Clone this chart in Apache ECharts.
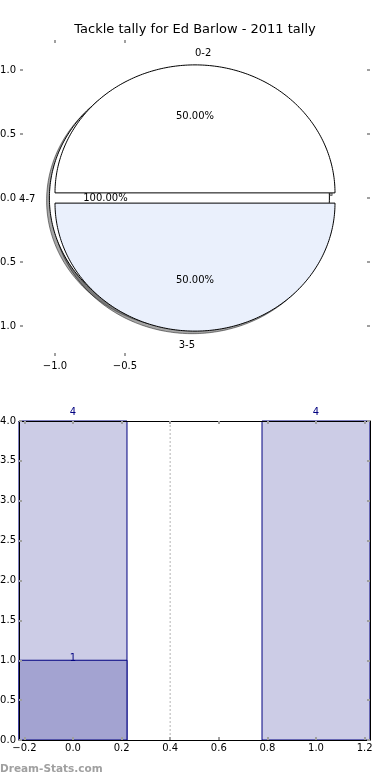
<!DOCTYPE html>
<html><head><meta charset="utf-8">
<script src="https://cdn.jsdelivr.net/npm/echarts@6/dist/echarts.min.js"></script>
<style>html,body{margin:0;padding:0;background:#fff}#c{width:390px;height:780px}</style>
</head><body><div id="c"></div>
<script>
// ---- data ----
const titleText = 'Tackle tally for Ed Barlow - 2011 tally';
const pieLabels = ['0-2', '4-7', '3-5'];
const pieValues = [1, 0, 1];
const piePctLabels = ['50.00%', '100.00%', '50.00%'];
const pieXTicks = [-1.0, -0.5];
const pieYTicks = [-1.0, -0.5, 0.0, 0.5, 1.0];

const barX = [0, 1];
const barTotals = [4, 4];
const barSubX = [0];
const barSubValues = [1];
const barXTicks = [-0.2, 0.0, 0.2, 0.4, 0.6, 0.8, 1.0, 1.2];
const barYTicks = [0.0, 0.5, 1.0, 1.5, 2.0, 2.5, 3.0, 3.5, 4.0];
const dividerX = [0.4];
const footerText = 'Dream-Stats.com';

// ---- styles ----
const FONT = 'DejaVu Sans';
const pieColors = ['#ffffff', '#ffffff', '#eaf0fc'];
const EXPLODE = 0.04, LABEL_D = 1.1, PCT_D = 0.6;
const SHADOW_OFF = [-0.02, -0.02];
const HALF_W = 0.2222;
const TICK_COLOR = '#a0a0a0';

const fmt = v => { const a = Math.abs(v) < 1e-9 ? 0 : v; return (a < 0 ? '\u2212' : '') + Math.abs(a).toFixed(1); };
const total = pieValues.reduce((a, b) => a + b, 0);
function wedge(i) {
  let t1 = 0;
  for (let k = 0; k < i; k++) t1 += 360 * pieValues[k] / total;
  const t2 = t1 + 360 * pieValues[i] / total;
  const m = (t1 + t2) / 2 * Math.PI / 180;
  return { t1, t2, m, full: t2 === t1, cx: EXPLODE * Math.cos(m), cy: EXPLODE * Math.sin(m) };
}
// a zero-sweep wedge is drawn as a full ellipse (as in the reference)
function wedgePoints(api, i, off) {
  const w = wedge(i);
  const a1 = w.t1, a2 = w.full ? w.t1 + 360 : w.t2;
  const pts = w.full ? [] : [api.coord([w.cx + off[0], w.cy + off[1]])];
  const n = Math.max(2, Math.ceil(a2 - a1));
  for (let j = 0; j <= n; j++) {
    const a = (a1 + (a2 - a1) * j / n) * Math.PI / 180;
    pts.push(api.coord([w.cx + off[0] + Math.cos(a), w.cy + off[1] + Math.sin(a)]));
  }
  return pts;
}

const tickStyle = (vals) => ({ show: true, inside: true, length: 3, lineStyle: { color: TICK_COLOR, width: 2 }, customValues: vals });
const labelStyle = (vals, margin) => ({ show: true, customValues: vals, formatter: fmt, fontFamily: FONT, fontSize: 10, color: '#000', margin: margin });
const hiddenLabel = { show: false };
const noSplit = { show: false };
const ghostLine = { show: true, onZero: false, lineStyle: { color: 'rgba(0,0,0,0)', width: 1 } };
const frameLine = { show: true, onZero: false, lineStyle: { color: '#000', width: 1 } };

const chart = echarts.init(document.getElementById('c'), null, { renderer: 'canvas' });
const pieIdx = pieLabels.map((_, i) => [i, 0]);

function barRender(fill) {
  return function (params, api) {
    const x = api.value(0), v = api.value(1);
    const p0 = api.coord([x - HALF_W, 0]), p1 = api.coord([x + HALF_W, v]);
    return { type: 'rect', shape: { x: p0[0], y: p1[1], width: p1[0] - p0[0], height: p0[1] - p1[1] },
      style: { fill: fill, stroke: '#000080', lineWidth: 1 } };
  };
}
function barLabelRender(dy, va) {
  return function (params, api) {
    const x = api.value(0), v = api.value(1);
    const p = api.coord([x, v]);
    return { type: 'text', x: p[0], y: p[1] + dy,
      style: { text: String(v), align: 'center', verticalAlign: va, fill: '#000080', font: '10px ' + FONT } };
  };
}

chart.setOption({
  animation: false,
  backgroundColor: '#fff',
  title: { text: titleText, left: 'center', top: 23, padding: 0,
    textStyle: { fontFamily: FONT, fontSize: 13, fontWeight: 'normal', color: '#000' } },
  grid: [
    { left: 20, top: 40, width: 350, height: 316, outerBoundsMode: 'none', containLabel: false },
    { left: 19, top: 421, width: 351, height: 319, outerBoundsMode: 'none', containLabel: false }
  ],
  xAxis: [
    { gridIndex: 0, type: 'value', position: 'bottom', min: -1.25, max: 1.25, z: 10,
      axisLine: ghostLine, splitLine: noSplit, axisTick: tickStyle(pieXTicks), axisLabel: labelStyle(pieXTicks, 5) },
    { gridIndex: 0, type: 'value', position: 'top', min: -1.25, max: 1.25, z: 10,
      axisLine: ghostLine, splitLine: noSplit, axisTick: tickStyle(pieXTicks), axisLabel: hiddenLabel },
    { gridIndex: 1, type: 'value', position: 'bottom', min: -HALF_W, max: 1 + HALF_W, z: 10,
      axisLine: frameLine, splitLine: noSplit, axisTick: tickStyle(barXTicks), axisLabel: labelStyle(barXTicks, 3) },
    { gridIndex: 1, type: 'value', position: 'top', min: -HALF_W, max: 1 + HALF_W, z: 10,
      axisLine: frameLine, splitLine: noSplit, axisTick: tickStyle(barXTicks), axisLabel: hiddenLabel }
  ],
  yAxis: [
    { gridIndex: 0, type: 'value', position: 'left', min: -1.234375, max: 1.234375, z: 10,
      axisLine: ghostLine, splitLine: noSplit, axisTick: tickStyle(pieYTicks), axisLabel: labelStyle(pieYTicks, 4) },
    { gridIndex: 0, type: 'value', position: 'right', min: -1.234375, max: 1.234375, z: 10,
      axisLine: ghostLine, splitLine: noSplit, axisTick: tickStyle(pieYTicks), axisLabel: hiddenLabel },
    { gridIndex: 1, type: 'value', position: 'left', min: 0, max: 4, z: 10,
      axisLine: frameLine, splitLine: noSplit, axisTick: tickStyle(barYTicks), axisLabel: labelStyle(barYTicks, 3) },
    { gridIndex: 1, type: 'value', position: 'right', min: 0, max: 4, z: 10,
      axisLine: frameLine, splitLine: noSplit, axisTick: tickStyle(barYTicks), axisLabel: hiddenLabel }
  ],
  series: [
    // pie shadows
    { type: 'custom', xAxisIndex: 0, yAxisIndex: 0, z: 1, data: pieIdx, silent: true,
      renderItem(params, api) {
        const i = params.dataIndex;
        return { type: 'polygon', shape: { points: wedgePoints(api, i, SHADOW_OFF) },
          style: { fill: 'rgba(77,77,77,0.5)', stroke: 'rgba(0,0,0,0.45)', lineWidth: 1 } };
      } },
    // full (zero-sweep) wedges, drawn beneath the others
    { type: 'custom', xAxisIndex: 0, yAxisIndex: 0, z: 2, data: pieIdx, silent: true,
      renderItem(params, api) {
        const i = params.dataIndex;
        if (!wedge(i).full) return null;
        return { type: 'polygon', shape: { points: wedgePoints(api, i, [0, 0]) },
          style: { fill: pieColors[i], stroke: '#000', lineWidth: 1 } };
      } },
    // pie wedges
    { type: 'custom', xAxisIndex: 0, yAxisIndex: 0, z: 3, data: pieIdx, silent: true,
      renderItem(params, api) {
        const i = params.dataIndex;
        if (wedge(i).full) return null;
        return { type: 'polygon', shape: { points: wedgePoints(api, i, [0, 0]) },
          style: { fill: pieColors[i], stroke: '#000', lineWidth: 1 } };
      } },
    // pie labels
    { type: 'custom', xAxisIndex: 0, yAxisIndex: 0, z: 4, data: pieIdx, silent: true,
      renderItem(params, api) {
        const i = params.dataIndex;
        const w = wedge(i);
        const xt = w.cx + LABEL_D * Math.cos(w.m), yt = w.cy + LABEL_D * Math.sin(w.m);
        const xp = w.cx + PCT_D * Math.cos(w.m), yp = w.cy + PCT_D * Math.sin(w.m);
        const p1 = api.coord([xt, yt]), p2 = api.coord([xp, yp]);
        return { type: 'group', children: [
          { type: 'text', x: p1[0], y: p1[1] + 1, style: { text: pieLabels[i], align: xt > 0 ? 'left' : 'right', verticalAlign: 'middle', fill: '#000', font: '10px ' + FONT } },
          { type: 'text', x: p2[0], y: p2[1], style: { text: piePctLabels[i], align: 'center', verticalAlign: 'middle', fill: '#000', font: '10px ' + FONT } }
        ] };
      } },
    // divider
    { type: 'custom', xAxisIndex: 2, yAxisIndex: 2, z: 1, data: dividerX.map(x => [x, 0]), silent: true,
      renderItem(params, api) {
        const p = api.coord([api.value(0), 0]);
        const cs = params.coordSys;
        return { type: 'line', shape: { x1: p[0], y1: cs.y, x2: p[0], y2: cs.y + cs.height },
          style: { stroke: '#cccccc', lineWidth: 1.5, lineDash: [2, 2] } };
      } },
    // total bars
    { type: 'custom', xAxisIndex: 2, yAxisIndex: 2, z: 2, data: barX.map((x, i) => [x, barTotals[i]]), silent: true,
      renderItem: barRender('#ccccE6') },
    // sub bars
    { type: 'custom', xAxisIndex: 2, yAxisIndex: 2, z: 3, data: barSubX.map((x, i) => [x, barSubValues[i]]), silent: true,
      renderItem: barRender('#a3a3d1') },
    // bar value labels
    { type: 'custom', xAxisIndex: 2, yAxisIndex: 2, z: 20, data: barX.map((x, i) => [x, barTotals[i]]), silent: true,
      renderItem: barLabelRender(-4, 'bottom') },
    { type: 'custom', xAxisIndex: 2, yAxisIndex: 2, z: 20, data: barSubX.map((x, i) => [x, barSubValues[i]]), silent: true,
      renderItem: barLabelRender(-2, 'middle') }
  ],
  graphic: [
    { type: 'text', left: 0, top: 764, silent: true,
      style: { text: footerText, fill: '#a0a0a0', font: 'bold 10.5px ' + FONT } }
  ]
});
</script>
</body></html>
